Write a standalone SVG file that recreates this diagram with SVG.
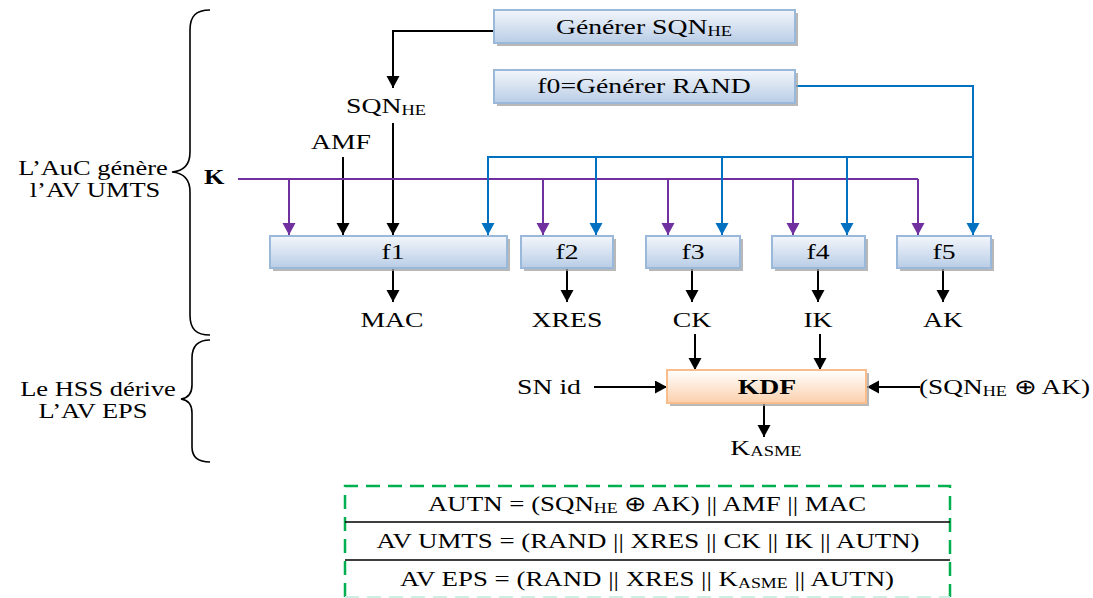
<svg xmlns="http://www.w3.org/2000/svg" width="1093" height="598" viewBox="0 0 1093 598">
<style>
.t{font-family:"Liberation Serif","Times New Roman",serif;font-size:21px;fill:#000}
.c{text-anchor:middle}
.b{font-weight:bold}
.sub{font-size:14px}
.box{fill:url(#gBlue);stroke:#9ab8da;stroke-width:2}
.kdf{fill:url(#gOrange);stroke:#f9bd8c;stroke-width:2}
.sh{fill:#a0a0a0;opacity:.75}
.k{fill:none;stroke:#000;stroke-width:2}
.p{fill:none;stroke:#7030a0;stroke-width:2}
.bl{fill:none;stroke:#0070c0;stroke-width:2}
.ak{marker-end:url(#aK)}
.ap{marker-end:url(#aP)}
.ab{marker-end:url(#aB)}
.brace{fill:none;stroke:#000;stroke-width:1.6}
.dash{fill:none;stroke:#00b050;stroke-width:2.5;stroke-dasharray:14 8}
</style>
<defs>
<linearGradient id="gBlue" x1="0" y1="0" x2="0" y2="1">
<stop offset="0" stop-color="#f3f6fb"/>
<stop offset="1" stop-color="#b9cde6"/>
</linearGradient>
<linearGradient id="gOrange" x1="0" y1="0" x2="0" y2="1">
<stop offset="0" stop-color="#ffffff"/>
<stop offset="1" stop-color="#fbd0ac"/>
</linearGradient>
<marker id="aK" markerUnits="userSpaceOnUse" markerWidth="14" markerHeight="14" refX="12" refY="6.5" orient="auto"><path d="M0,0 L12,6.5 L0,13 z" fill="#000"/></marker>
<marker id="aP" markerUnits="userSpaceOnUse" markerWidth="14" markerHeight="14" refX="12" refY="6.5" orient="auto"><path d="M0,0 L12,6.5 L0,13 z" fill="#7030a0"/></marker>
<marker id="aB" markerUnits="userSpaceOnUse" markerWidth="14" markerHeight="14" refX="12" refY="6.5" orient="auto"><path d="M0,0 L12,6.5 L0,13 z" fill="#0070c0"/></marker>
</defs>
<rect width="1093" height="598" fill="#fff"/>

<g id="braces">
<path class="brace" d="M210,10 C196,10 190,16 190,30 L190,152 C190,164 184,171 172,172 C184,173 190,180 190,192 L190,315 C190,329 196,335 210,335"/>
<path class="brace" d="M210,340 C198,340 192,346 192,358 L192,385 C192,394 188,398 181,399 C188,400 192,404 192,413 L192,447 C192,457 198,462 210,462"/>
</g>
<g id="side-labels">
<text class="t c" transform="translate(93,175) scale(1.26,1)">L’AuC génère</text>
<text class="t c" transform="translate(95,197) scale(1.26,1)">l’AV UMTS</text>
<text class="t c" transform="translate(98,396) scale(1.26,1)">Le HSS dérive</text>
<text class="t c" transform="translate(93,418) scale(1.26,1)">L’AV EPS</text>
</g>

<g id="connectors">
<path class="k ak" d="M494,31 H393 V88"/>
<path class="k ak" d="M393,123 V235"/>
<path class="k ak" d="M343,157 V235"/>
<path class="p" d="M238,179 H918"/>
<path class="p ap" d="M289,179 V235"/>
<path class="p ap" d="M543,179 V235"/>
<path class="p ap" d="M668,179 V235"/>
<path class="p ap" d="M793,179 V235"/>
<path class="p ap" d="M918,179 V235"/>
<path class="bl ab" d="M795,86 H973 V235"/>
<path class="bl ab" d="M973,157 H488 V235"/>
<path class="bl ab" d="M596,157 V235"/>
<path class="bl ab" d="M722,157 V235"/>
<path class="bl ab" d="M847,157 V235"/>
<path class="k ak" d="M393,268 V302"/>
<path class="k ak" d="M567,268 V302"/>
<path class="k ak" d="M692,268 V302"/>
<path class="k ak" d="M818,268 V302"/>
<path class="k ak" d="M943,268 V302"/>
<path class="k ak" d="M695,334 V370"/>
<path class="k ak" d="M820,334 V370"/>
<path class="k ak" d="M594,387 H667"/>
<path class="k ak" d="M920,387 H867"/>
<path class="k ak" d="M764,404 V437"/>
</g>

<g id="gen-sqn">
<rect class="sh" x="497" y="13" width="301" height="33"/>
<rect class="box" x="494" y="10" width="301" height="33"/>
<text class="t c" transform="translate(644,34) scale(1.32,1)">Générer SQN<tspan class="sub" dy="2">HE</tspan></text>
</g>
<g id="gen-rand">
<rect class="sh" x="497" y="73" width="301" height="33"/>
<rect class="box" x="494" y="70" width="301" height="33"/>
<text class="t c" transform="translate(644,93) scale(1.32,1)">f0=Générer RAND</text>
</g>

<g id="inputs">
<text class="t c" transform="translate(386,113) scale(1.32,1)">SQN<tspan class="sub" dy="2">HE</tspan></text>
<text class="t c" transform="translate(341,149) scale(1.32,1)">AMF</text>
<text class="t b" transform="translate(204,184) scale(1.25,1)">K</text>
</g>

<g id="f1">
<rect class="sh" x="273" y="239" width="237" height="32"/>
<rect class="box" x="270" y="236" width="237" height="32"/>
<text class="t c" transform="translate(393,259) scale(1.32,1)">f1</text>
</g>
<g id="f2">
<rect class="sh" x="524" y="239" width="92" height="32"/>
<rect class="box" x="521" y="236" width="92" height="32"/>
<text class="t c" transform="translate(567,259) scale(1.32,1)">f2</text>
</g>
<g id="f3">
<rect class="sh" x="649" y="239" width="94" height="32"/>
<rect class="box" x="646" y="236" width="94" height="32"/>
<text class="t c" transform="translate(693,259) scale(1.32,1)">f3</text>
</g>
<g id="f4">
<rect class="sh" x="775" y="239" width="93" height="32"/>
<rect class="box" x="772" y="236" width="93" height="32"/>
<text class="t c" transform="translate(818,259) scale(1.32,1)">f4</text>
</g>
<g id="f5">
<rect class="sh" x="900" y="239" width="94" height="32"/>
<rect class="box" x="897" y="236" width="94" height="32"/>
<text class="t c" transform="translate(944,259) scale(1.32,1)">f5</text>
</g>

<g id="outputs">
<text class="t c" transform="translate(392,327) scale(1.32,1)">MAC</text>
<text class="t c" transform="translate(567,327) scale(1.32,1)">XRES</text>
<text class="t c" transform="translate(692,327) scale(1.32,1)">CK</text>
<text class="t c" transform="translate(818,327) scale(1.32,1)">IK</text>
<text class="t c" transform="translate(943,327) scale(1.32,1)">AK</text>
</g>

<g id="kdf">
<rect class="sh" x="670" y="373" width="199" height="33"/>
<rect class="kdf" x="667" y="370" width="199" height="33"/>
<text class="t c b" transform="translate(767,394) scale(1.32,1)">KDF</text>
</g>
<g id="kdf-io">
<text class="t c" transform="translate(549,394) scale(1.32,1)">SN id</text>
<text class="t" transform="translate(919,394) scale(1.3,1)">(SQN<tspan class="sub" dy="2">HE</tspan><tspan dy="-2"> ⊕ AK)</tspan></text>
<text class="t c" transform="translate(766,455) scale(1.32,1)">K<tspan class="sub" dy="1">ASME</tspan></text>
</g>

<g id="summary">
<path class="dash" d="M345,597 V486 H950 V597"/>
<path d="M345,597 H950" fill="none" stroke="#cdeee2" stroke-width="2" stroke-dasharray="14 8"/>
<path d="M345,522 H950 M345,560 H950" fill="none" stroke="#000" stroke-width="1.6"/>
<text class="t c" transform="translate(647,511) scale(1.28,1)">AUTN = (SQN<tspan class="sub" dy="2">HE</tspan><tspan dy="-2"> ⊕ AK) || AMF || MAC</tspan></text>
<text class="t c" transform="translate(648,548) scale(1.28,1)">AV UMTS = (RAND || XRES || CK || IK || AUTN)</text>
<text class="t c" transform="translate(647,586) scale(1.28,1)">AV EPS = (RAND || XRES || K<tspan class="sub" dy="2">ASME</tspan><tspan dy="-2"> || AUTN)</tspan></text>
</g>
</svg>
